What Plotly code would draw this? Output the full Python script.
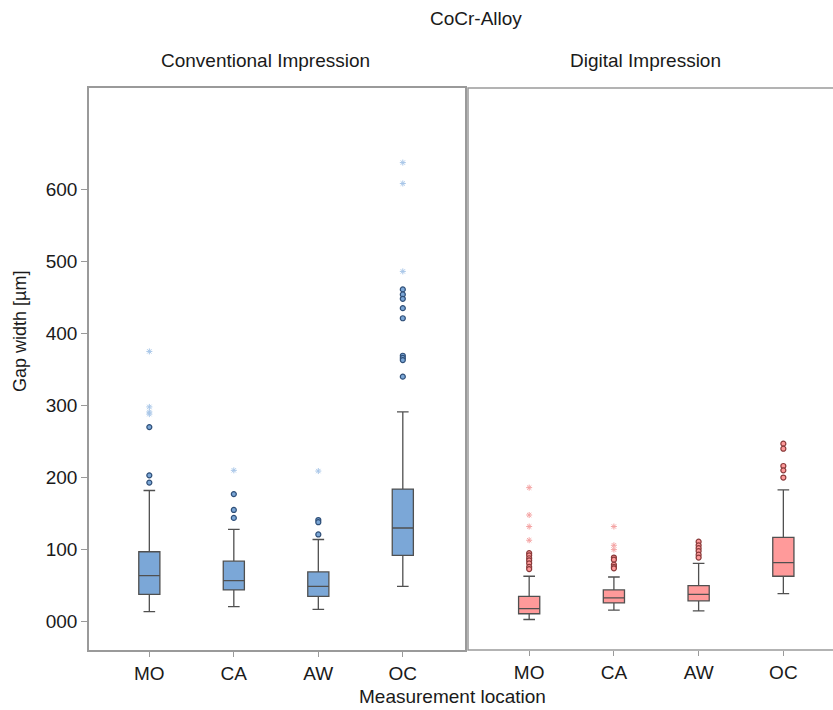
import plotly.graph_objects as go

categories = ["MO", "CA", "AW", "OC"]

# Conventional impression (precomputed box statistics)
conv_q1 = [38, 44, 35, 92]
conv_median = [64, 57, 49, 130]
conv_q3 = [97, 84, 69, 184]
conv_low = [14, 21, 17, 49]
conv_high = [182, 128, 114, 291]
conv_out_x = ["MO", "MO", "MO", "CA", "CA", "CA", "AW", "AW", "AW",
              "OC", "OC", "OC", "OC", "OC", "OC", "OC", "OC", "OC"]
conv_out_y = [270, 203, 193, 177, 155, 144, 141, 138, 121,
              461, 454, 448, 435, 421, 369, 366, 363, 340]
conv_ext_x = ["MO", "MO", "MO", "MO", "CA", "AW", "OC", "OC", "OC"]
conv_ext_y = [375, 298, 291, 288, 210, 209, 637, 608, 486]

# Digital impression
dig_q1 = [11, 26, 29, 63]
dig_median = [18, 33, 38, 82]
dig_q3 = [35, 44, 50, 117]
dig_low = [3, 16, 15, 39]
dig_high = [63, 62, 81, 183]
dig_out_x = ["MO"] * 7 + ["CA"] * 5 + ["AW"] * 6 + ["OC"] * 5
dig_out_y = [95, 92, 88, 85, 81, 76, 73,
             89, 86, 79, 76, 74,
             111, 106, 102, 98, 93, 89,
             247, 240, 216, 210, 200]
dig_ext_x = ["MO", "MO", "MO", "MO", "CA", "CA", "CA"]
dig_ext_y = [186, 148, 132, 113, 132, 106, 100]

y_tickvals = [0, 100, 200, 300, 400, 500, 600]
y_ticktext = ["000", "100", "200", "300", "400", "500", "600"]

FONT = "Liberation Sans, Arial, sans-serif"
W, H = 833, 710
L, T = 89, 88
R = 0
B = H - 650
PW = W - L - R
PH = H - T - B
FRAME_COLOR = "#9a9a9a"


def px_x(px):
    return (px - L) / PW


def px_y(py):
    return (H - B - py) / PH


fig = go.Figure()

box_line = "#505050"
fig.add_trace(go.Box(
    x=categories, q1=conv_q1, median=conv_median, q3=conv_q3,
    lowerfence=conv_low, upperfence=conv_high,
    fillcolor="#7ba7d7", line=dict(color=box_line, width=1.3),
    width=0.25, whiskerwidth=0.55, boxpoints=False,
    xaxis="x", yaxis="y", showlegend=False, hoverinfo="skip"))
fig.add_trace(go.Scatter(
    x=conv_out_x, y=conv_out_y, mode="markers",
    marker=dict(symbol="circle", size=5, color="#7ba7d7",
                line=dict(color="#2f4f78", width=1.2)),
    xaxis="x", yaxis="y", showlegend=False))
fig.add_trace(go.Scatter(
    x=conv_ext_x, y=conv_ext_y, mode="markers",
    marker=dict(symbol="asterisk", size=5, color="#a8c6e8",
                line=dict(color="#a8c6e8", width=1)),
    xaxis="x", yaxis="y", showlegend=False))

fig.add_trace(go.Box(
    x=categories, q1=dig_q1, median=dig_median, q3=dig_q3,
    lowerfence=dig_low, upperfence=dig_high,
    fillcolor="#ff9a9a", line=dict(color=box_line, width=1.3),
    width=0.25, whiskerwidth=0.55, boxpoints=False,
    xaxis="x2", yaxis="y2", showlegend=False, hoverinfo="skip"))
fig.add_trace(go.Scatter(
    x=dig_out_x, y=dig_out_y, mode="markers",
    marker=dict(symbol="circle", size=5, color="#ff9a9a",
                line=dict(color="#8a3a3a", width=1.2)),
    xaxis="x2", yaxis="y2", showlegend=False))
fig.add_trace(go.Scatter(
    x=dig_ext_x, y=dig_ext_y, mode="markers",
    marker=dict(symbol="asterisk", size=5, color="#f4a3a3",
                line=dict(color="#f4a3a3", width=1)),
    xaxis="x2", yaxis="y2", showlegend=False))

frame = dict(showline=True, mirror=True, linecolor=FRAME_COLOR, linewidth=1.5,
             showgrid=False, zeroline=False)

yr = [-39.3, 740.5]
fig.update_layout(
    width=W, height=H,
    margin=dict(l=L, r=R, t=T, b=B),
    paper_bgcolor="white", plot_bgcolor="white",
    font=dict(family=FONT, size=19, color="#1a1a1a"),
    xaxis=dict(domain=[0, px_x(465)], range=[-0.714, 3.736],
               type="category", categoryorder="array", categoryarray=categories,
               ticks="outside", ticklen=5, tickcolor=FRAME_COLOR,
               tickfont=dict(size=19), **frame),
    xaxis2=dict(domain=[px_x(468), 1], range=[-0.722, 3.586],
                type="category", categoryorder="array", categoryarray=categories,
                ticks="outside", ticklen=5, tickcolor=FRAME_COLOR,
                tickfont=dict(size=19), anchor="y2",
                showline=False, showgrid=False, zeroline=False),
    yaxis=dict(range=yr, tickvals=y_tickvals, ticktext=y_ticktext,
               ticks="outside", ticklen=6, tickcolor=FRAME_COLOR,
               tickfont=dict(size=19), **frame),
    yaxis2=dict(range=yr, anchor="x2", showticklabels=False, ticks="",
                showline=False, showgrid=False, zeroline=False),
)

# right panel frame: runs past the right edge of the picture (cut off there)
fig.add_shape(type="rect", xref="paper", yref="paper",
              x0=px_x(468), x1=px_x(845), y0=0, y1=1,
              line=dict(color=FRAME_COLOR, width=1.5), layer="above")

ann = [
    ("CoCr-Alloy", 476, 19, 19, 0),
    ("Conventional Impression", 265, 61, 19, 0),
    ("Digital Impression", 645, 61, 19, 0),
    ("Measurement location", 452, 697, 19, 0),
    ("Gap width [µm]", 20, 332, 18, -90),
]
for text, ax_, ay_, size, ang in ann:
    fig.add_annotation(text=text, x=px_x(ax_), y=px_y(ay_), xref="paper", yref="paper",
                       showarrow=False, xanchor="center", yanchor="middle",
                       textangle=ang, font=dict(size=size, family=FONT, color="#1a1a1a"))

fig.write_html("out.html", config={"displayModeBar": False},
               post_script="document.body.style.margin='0';document.body.style.overflow='hidden';")
